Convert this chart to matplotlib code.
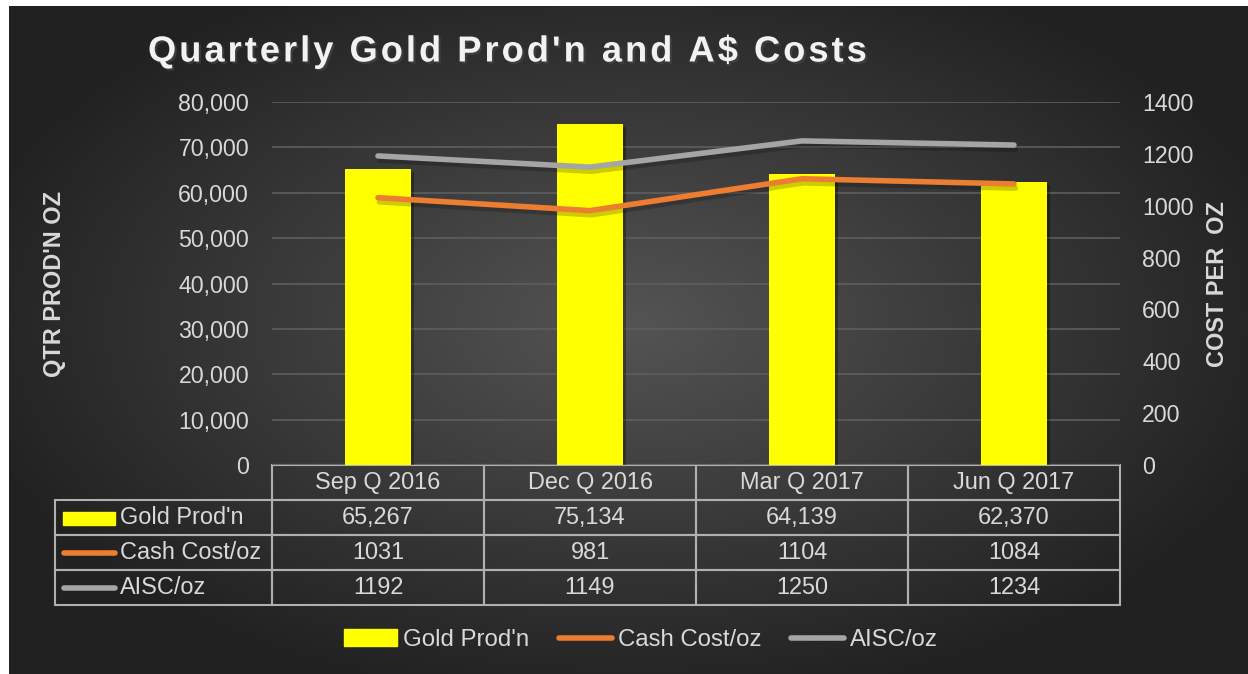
import matplotlib.pyplot as plt
import matplotlib.patheffects as pe
import numpy as np
from matplotlib.lines import Line2D
from matplotlib.patches import Patch, Rectangle

quarters = ["Sep Q 2016", "Dec Q 2016", "Mar Q 2017", "Jun Q 2017"]
gold_prod = [65267, 75134, 64139, 62370]
cash_cost = [1031, 981, 1104, 1084]
aisc = [1192, 1149, 1250, 1234]
series_names = ["Gold Prod'n", "Cash Cost/oz", "AISC/oz"]

YELLOW = "#FFFF00"
ORANGE = "#ED7D31"
GREY = "#A5A5A5"
TXT = "#D9D9D9"
FS = 16.9

plt.rcParams["font.family"] = ["Liberation Sans", "DejaVu Sans"]

W, H = 1248, 674
fig = plt.figure(figsize=(W / 100, H / 100), dpi=100, facecolor="white")

# dark radial-gradient background (starts 9px from left, 6px from top)
bg = fig.add_axes([9 / W, 0, 1 - 9 / W, 1 - 6 / H])
bg.set_axis_off()
yy, xx = np.mgrid[-1:1:300j, -1:1:500j]
r = np.sqrt((xx / 1.05) ** 2 + ((yy + 0.05) / 1.1) ** 2)
shade = np.clip(0.33 - 0.19 * r, 0.13, 0.33)
bg.imshow(np.dstack([shade] * 3), aspect="auto", extent=[0, 1, 0, 1], interpolation="bilinear")

# main plot
L, R, T, B = 272, 1120, 102, 465
ax = fig.add_axes([L / W, 1 - B / H, (R - L) / W, (B - T) / H])
ax.set_facecolor("none")
x = np.arange(len(quarters))
ax.bar(x, gold_prod, width=0.31, color=YELLOW, zorder=2,
       path_effects=[pe.SimplePatchShadow(offset=(2, -2), shadow_rgbFace="black", alpha=0.3),
                     pe.Normal()])
ax.set_xlim(-0.5, len(quarters) - 0.5)
ax.set_ylim(0, 80000)
ax.set_yticks(np.arange(0, 80001, 10000))
ax.set_yticklabels([f"{v:,}" for v in range(0, 80001, 10000)])
ax.set_xticks([])
ax.grid(axis="y", color="#5E5E5E", lw=1.2, zorder=0)
ax.tick_params(axis="y", length=0, pad=16.5, labelsize=16.7, labelcolor=TXT)
for s in ax.spines.values():
    s.set_visible(False)

ax2 = ax.twinx()
shadow = [pe.SimpleLineShadow(offset=(1, -3), shadow_color="black", alpha=0.2), pe.Normal()]
ax2.plot(x, cash_cost, color=ORANGE, lw=4, solid_capstyle="round", solid_joinstyle="round",
         path_effects=shadow, zorder=3)
ax2.plot(x, aisc, color=GREY, lw=4, solid_capstyle="round", solid_joinstyle="round",
         path_effects=shadow, zorder=3)
ax2.set_ylim(0, 1400)
ax2.set_yticks(np.arange(0, 1401, 200))
ax2.tick_params(axis="y", length=0, pad=16, labelsize=16.7, labelcolor=TXT)
for s in ax2.spines.values():
    s.set_visible(False)

# data table under the plot
cells = [
    [f"{v:,}" for v in gold_prod],
    [str(v) for v in cash_cost],
    [str(v) for v in aisc],
]
tbl_left, tbl_bottom = 55, 605
tbl = ax.table(
    cellText=cells,
    rowLabels=series_names,
    colLabels=quarters,
    colWidths=[0.25] * 4,
    cellLoc="center",
    rowLoc="left",
    bbox=[0, (B - tbl_bottom) / (B - T), 1, (tbl_bottom - B) / (B - T)],
)
tbl._autoColumns = []
tbl.auto_set_font_size(False)
for (row, col), cell in tbl.get_celld().items():
    cell.set_facecolor("none")
    cell.set_edgecolor("#B0B0B0")
    cell.set_linewidth(1.5)
    cell.get_text().set_color(TXT)
    cell.get_text().set_fontsize(FS)
    if col == -1:
        cell.set_width(0.25 * (L - tbl_left) / ((R - L) / 4))
        cell.PAD = 0.3

# legend keys inside the table's row labels
row_h = (tbl_bottom - B) / 4
for i, c in enumerate([YELLOW, ORANGE, GREY]):
    yc = 1 - (B + row_h * (i + 1.5)) / H
    if i == 0:
        fig.add_artist(Rectangle((63 / W, yc - 7 / H), 52 / W, 13 / H, color=c,
                                 transform=fig.transFigure))
    else:
        fig.add_artist(Line2D([64 / W, 115 / W], [yc, yc], color=c, lw=4,
                              solid_capstyle="round", transform=fig.transFigure))

# axis titles
fig.text(55 / W, 1 - 284 / H, "QTR PROD'N OZ", rotation=90, ha="center", va="center",
         color=TXT, fontsize=FS, fontweight="bold")
fig.text(1217 / W, 1 - 284 / H, "COST PER  OZ", rotation=90, ha="center", va="center",
         color=TXT, fontsize=FS, fontweight="bold")

# title (letter-spaced with hair spaces)
title = "Quarterly Gold Prod'n and A$ Costs"
fig.text(148 / W, 1 - 52 / H, "\u200a".join(title),
         ha="left", va="center", color="#F2F2F2", fontsize=26.1, fontweight="bold",
         path_effects=[pe.withSimplePatchShadow(offset=(1.5, -1.5), alpha=0.6)])

# bottom legend
handles = [
    Patch(color=YELLOW),
    Line2D([], [], color=ORANGE, lw=4, solid_capstyle="round"),
    Line2D([], [], color=GREY, lw=4, solid_capstyle="round"),
]
fig.legend(handles, series_names, loc="center", bbox_to_anchor=(641 / W, 1 - 640 / H),
           ncol=3, frameon=False, fontsize=17.3, labelcolor=TXT, handlelength=2.2,
           handleheight=0.7, handletextpad=0.25, columnspacing=1.25)

fig.savefig("out.png", dpi=100, facecolor="white")
